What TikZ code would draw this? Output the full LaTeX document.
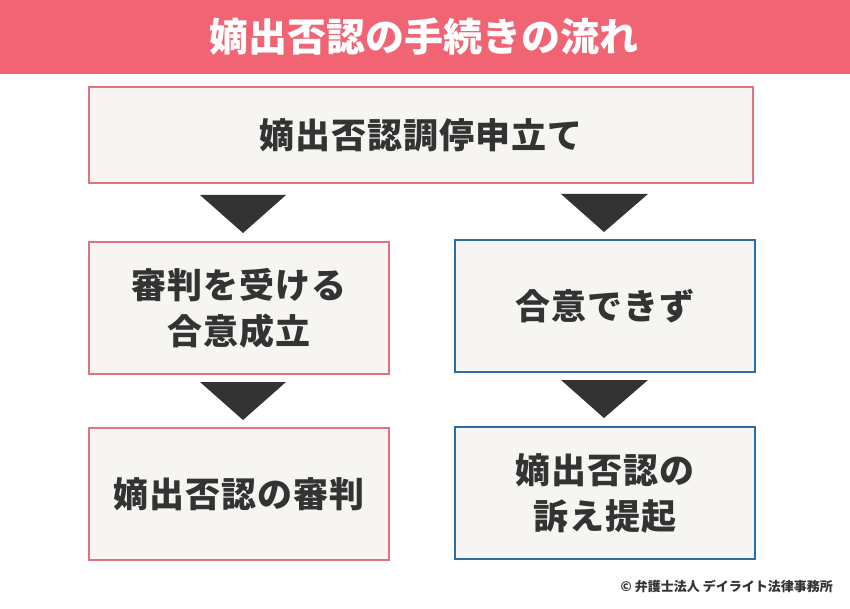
\documentclass[tikz,border=0pt]{standalone}
\usepackage{fontspec}
\setmainfont{Noto Sans CJK JP}
\usetikzlibrary{positioning}

\definecolor{barpink}{HTML}{F06474}
\definecolor{linepink}{HTML}{E27282}
\definecolor{lineblue}{HTML}{2B6DA6}
\definecolor{boxfill}{HTML}{F7F5F2}
\definecolor{inkdark}{HTML}{333333}

\tikzset{
  flowbox/.style={draw, line width=2pt, fill=boxfill, text=inkdark,
    font=\bfseries\fontsize{35}{46}\selectfont\addfontfeature{LetterSpace=3},
    align=center, inner sep=0pt, minimum width=300pt, minimum height=132pt},
  pinkbox/.style={flowbox, draw=linepink},
  bluebox/.style={flowbox, draw=lineblue},
  marker/.style={fill=inkdark}
}

\begin{document}
\begin{tikzpicture}[x=1pt, y=-1pt]

    \useasboundingbox (0,0) rectangle (850,609);
    \fill[white] (0,0) rectangle (850,609);
    \fill[barpink] (0,0) rectangle (850,74);

    \node[white, font=\bfseries\fontsize{39}{40}\selectfont] at (424, 37) (title) {嫡出否認の手続きの流れ};

    \node[pinkbox, minimum width=664pt, minimum height=96pt] at (421, 135) (apply) {嫡出否認調停申立て};

    \node[pinkbox] at (239, 308) (agree) {審判を受ける\\合意成立};
    \node[bluebox] at (605, 306) (noagree) {合意できず};

    \node[pinkbox] at (239, 494) (ruling) {嫡出否認の審判};
    \node[bluebox] at (605, 493) (suit) {嫡出否認の\\訴え提起};

%Flow markers
    \fill[marker] (200, 195) -- (286, 195) -- (243, 233) -- cycle;
    \fill[marker] (561, 194) -- (648, 194) -- (604, 232) -- cycle;
    \fill[marker] (200, 382) -- (286, 382) -- (243, 420) -- cycle;
    \fill[marker] (561, 380) -- (648, 380) -- (604, 418) -- cycle;

    \node[anchor=east, text=inkdark, font=\bfseries\fontsize{13}{15}\selectfont, inner sep=0pt] at (833, 586) (credit) {© 弁護士法人 デイライト法律事務所};

  \end{tikzpicture}
\end{document}
